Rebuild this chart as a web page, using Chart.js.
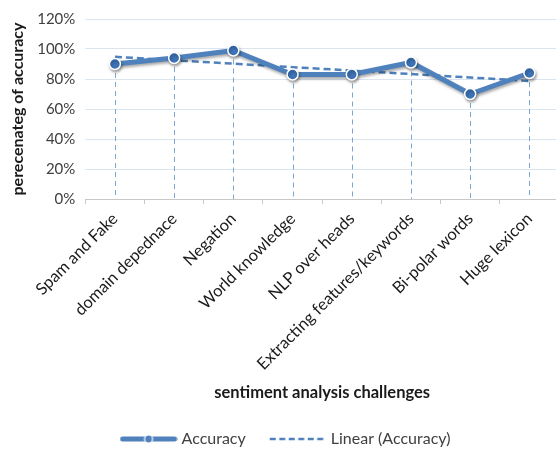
<!DOCTYPE html>
<html>
<head>
<meta charset="utf-8">
<script src="https://cdn.jsdelivr.net/npm/chart.js@4"></script>
<style>
  html, body { margin: 0; padding: 0; background: #fff; overflow: hidden; }
  #wrap { width: 566px; height: 450px; position: relative; }
</style>
</head>
<body>
<div id="wrap"><canvas id="chart"></canvas></div>
<script>
// values
const categories = [
  'Spam and Fake', 'domain depednace', 'Negation', 'World knowledge',
  'NLP over heads', 'Extracting features/keywords', 'Bi-polar words', 'Huge lexicon'
];
const accuracy = [90, 94, 99, 83, 83, 91, 70, 84];
const linearAccuracy = [94.8, 92.5, 90.2, 87.9, 85.6, 83.3, 81.0, 78.7];
const yTicks = [0, 20, 40, 60, 80, 100, 120];

const BLUE = '#4f81bd';
const FONT = 'Lato, "Open Sans", sans-serif';

// small canvases used as legend symbols
function legendSymbol(kind) {
  const c = document.createElement('canvas');
  c.width = 58; c.height = 12;
  const g = c.getContext('2d');
  g.strokeStyle = BLUE;
  if (kind === 'line') {
    g.lineWidth = 5;
    g.lineCap = 'round';
    g.beginPath(); g.moveTo(3, 6); g.lineTo(55, 6); g.stroke();
    g.fillStyle = BLUE;
    g.strokeStyle = '#fff';
    g.lineWidth = 1.2;
    g.beginPath(); g.arc(29, 6, 4, 0, Math.PI * 2); g.fill(); g.stroke();
  } else {
    g.lineWidth = 2.5;
    g.setLineDash([6, 3.5]);
    g.beginPath(); g.moveTo(1, 6); g.lineTo(57, 6); g.stroke();
  }
  return c;
}

// dashed drop lines from each point down to the axis
const dropLines = {
  id: 'dropLines',
  beforeDatasetsDraw(chart) {
    const meta = chart.getDatasetMeta(0);
    const yScale = chart.scales.y;
    const ctx = chart.ctx;
    ctx.save();
    ctx.strokeStyle = '#7aa6d6';
    ctx.lineWidth = 1;
    ctx.setLineDash([5, 4]);
    meta.data.forEach(pt => {
      ctx.beginPath();
      ctx.moveTo(Math.round(pt.x) + 0.5, pt.y);
      ctx.lineTo(Math.round(pt.x) + 0.5, yScale.getPixelForValue(0));
      ctx.stroke();
    });
    ctx.restore();
  }
};

// soft shadow under the accuracy series
const seriesShadow = {
  id: 'seriesShadow',
  beforeDatasetDraw(chart, args) {
    if (args.index !== 0) return;
    chart.ctx.save();
    chart.ctx.shadowColor = 'rgba(0,0,0,0.35)';
    chart.ctx.shadowBlur = 3;
    chart.ctx.shadowOffsetX = 1;
    chart.ctx.shadowOffsetY = 2;
  },
  afterDatasetDraw(chart, args) {
    if (args.index !== 0) return;
    chart.ctx.restore();
  }
};

// nudge the legend row down to the bottom edge
const legendNudge = {
  id: 'legendNudge',
  afterLayout(chart) {
    if (!chart.legend) return;
    chart.legend.top += 7;
    chart.legend.bottom += 7;
  }
};

new Chart(document.getElementById('chart'), {
  type: 'line',
  data: {
    labels: categories,
    datasets: [
      {
        label: 'Accuracy',
        data: accuracy,
        borderColor: BLUE,
        backgroundColor: BLUE,
        borderWidth: 5,
        pointRadius: 5.5,
        pointBorderWidth: 1.5,
        pointBorderColor: '#ffffff',
        pointBackgroundColor: '#3d73b8',
        tension: 0,
        order: 0
      },
      {
        label: 'Linear (Accuracy)',
        data: linearAccuracy,
        borderColor: BLUE,
        borderWidth: 2.5,
        borderDash: [7, 4],
        pointRadius: 0,
        tension: 0,
        order: 1
      }
    ]
  },
  options: {
    responsive: true,
    maintainAspectRatio: false,
    animation: false,
    layout: { padding: { top: 6, left: 8, right: 0, bottom: 0 } },
    plugins: {
      tooltip: { enabled: false },
      legend: {
        position: 'bottom',
        labels: {
          font: { family: FONT, size: 16 },
          color: '#404040',
          usePointStyle: true,
          pointStyleWidth: 50,
          padding: 3,
          generateLabels: () => [
            { text: 'Accuracy\u2003\u2003', pointStyle: legendSymbol('line'), fontColor: '#404040', lineWidth: 0, hidden: false, datasetIndex: 0 },
            { text: 'Linear (Accuracy)', pointStyle: legendSymbol('dash'), fontColor: '#404040', lineWidth: 0, hidden: false, datasetIndex: 1 }
          ]
        }
      }
    },
    scales: {
      x: {
        offset: true,
        grid: { offset: true, drawOnChartArea: false, drawTicks: true, tickLength: 5, color: '#c8c8c8' },
        border: { color: '#c8c8c8' },
        ticks: {
          font: { family: FONT, size: 16.5 },
          color: '#1a1a1a',
          maxRotation: 45,
          minRotation: 45,
          autoSkip: false,
          padding: 5
        },
        title: {
          display: true,
          text: 'sentiment analysis challenges',
          font: { family: FONT, size: 16.5, weight: 'bold' },
          color: '#1a1a1a',
          padding: { top: 13, bottom: 18 }
        }
      },
      y: {
        min: 0,
        max: 120,
        afterBuildTicks: axis => { axis.ticks = yTicks.map(v => ({ value: v })); },
        grid: { color: '#dbe5f0', drawTicks: false },
        border: { display: false },
        ticks: {
          font: { family: FONT, size: 15 },
          color: '#404040',
          padding: 10,
          callback: v => v + '%'
        },
        title: {
          display: true,
          text: 'perecenateg of accuracy',
          font: { family: FONT, size: 16, weight: 'bold' },
          color: '#1a1a1a',
          padding: { top: 0, bottom: 0 }
        }
      }
    }
  },
  plugins: [dropLines, seriesShadow, legendNudge]
});
</script>
</body>
</html>
